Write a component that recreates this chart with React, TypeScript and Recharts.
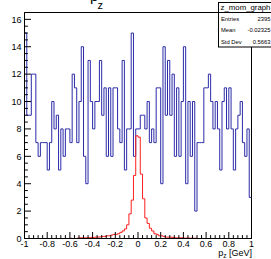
import { ComposedChart, Line, XAxis, YAxis, ReferenceArea } from "recharts";

const X_MIN = -1;
const X_MAX = 1;
const Y_MAX = 16.5;

// 100 bins over [-1, 1] GeV
const blueCounts = [
  15, 9, 9, 12, 12, 7, 6, 7, 7, 7,
  5, 7, 10, 8, 9, 5, 8, 6, 8, 8,
  7, 12, 11, 7, 10, 14, 6, 4, 13, 10,
  8, 10, 10, 13, 9, 11, 6, 11, 6, 11,
  11, 8, 7, 13, 5, 8, 8, 15, 6, 8,
  8, 9, 9, 8, 10, 7, 8, 7, 11, 11,
  4, 14, 9, 13, 9, 12, 6, 11, 6, 10,
  14, 4, 10, 6, 10, 2, 7, 7, 7, 11,
  11, 12, 10, 8, 10, 8, 5, 10, 11, 8,
  11, 8, 5, 8, 9, 10, 7, 6, 8, 3,
];

const redCounts = [
  0, 0, 0, 0, 0, 0, 0, 0, 0, 0,
  0, 0, 0, 0, 0, 0, 0, 0, 0, 0,
  0.02, 0, 0, 0.02, 0.05, 0.05, 0.05, 0.05, 0.05, 0.08,
  0.08, 0.1, 0.1, 0.12, 0.15, 0.15, 0.2, 0.2, 0.25, 0.3,
  0.3, 0.35, 0.45, 0.55, 0.7, 1.0, 1.8, 2.8, 4.6, 7.5,
  7.4, 4.7, 2.9, 1.5, 1.1, 0.75, 0.55, 0.35, 0.3, 0.2,
  0.2, 0.15, 0.1, 0.1, 0.1, 0.08, 0.05, 0.05, 0.05, 0.05,
  0.03, 0.03, 0.03, 0.02, 0.02, 0.02, 0, 0, 0, 0,
  0, 0, 0, 0, 0, 0, 0, 0, 0, 0,
  0, 0, 0, 0, 0, 0, 0, 0, 0, 0,
];

const xMajorTicks = [-1, -0.8, -0.6, -0.4, -0.2, 0, 0.2, 0.4, 0.6, 0.8, 1];
const xTickLabels = ["-1", "-0.8", "-0.6", "-0.4", "-0.2", "0", "0.2", "0.4", "0.6", "0.8", "1"];
const yMajorTicks = [0, 2, 4, 6, 8, 10, 12, 14, 16];
const yTickLabels = ["0", "2", "4", "6", "8", "10", "12", "14", "16"];
const X_MINOR_DIV = 5;
const Y_MINOR_DIV = 4;

const statsTitle = "z_mom_graph";
const statsLabels = ["Entries", "Mean", "Std Dev"];
const statsValues = ["2395", "-0.02325", "0.5663"];

const FONT = "'Liberation Sans', Arial, Helvetica, sans-serif";
const BLUE = "#2b2ba8";
const RED = "#ff1e1e";

const round = (v: number) => Math.round(v * 10000) / 10000;

function withMinors(majors: number[], div: number, top?: number) {
  const out: number[] = [];
  majors.forEach((m, i) => {
    out.push(m);
    const next = i < majors.length - 1 ? majors[i + 1] : top;
    if (next === undefined) return;
    const step = (majors[1] - majors[0]) / div;
    for (let k = 1; k < div; k++) {
      const v = round(m + k * step);
      if (v < next + 1e-9) out.push(v);
    }
  });
  return out;
}

const xTicks = withMinors(xMajorTicks, X_MINOR_DIV);
const yTicks = withMinors(yMajorTicks, Y_MINOR_DIV, Y_MAX);

const majorIndex = (majors: number[], v: number) =>
  majors.findIndex((m) => Math.abs(m - v) < 1e-6);

const nBins = blueCounts.length;
const histData = Array.from({ length: nBins + 1 }, (_, i) => {
  const b = Math.min(i, nBins - 1);
  return {
    x: round(X_MIN + (i * (X_MAX - X_MIN)) / nBins),
    blue: blueCounts[b],
    red: redCounts[b],
  };
});

function XTick(props: any) {
  const { x, y, payload } = props;
  const idx = majorIndex(xMajorTicks, payload.value);
  const len = idx >= 0 ? 6.5 : 3.4;
  return (
    <g>
      <line x1={x} x2={x} y1={y} y2={y - len} stroke="#000" strokeWidth={1} />
      {idx >= 0 && (
        <text x={x} y={y + 8.6} textAnchor="middle" fontSize={9} fontFamily={FONT} fill="#000">
          {xTickLabels[idx]}
        </text>
      )}
    </g>
  );
}

function YTick(props: any) {
  const { x, y, payload } = props;
  const idx = majorIndex(yMajorTicks, payload.value);
  const len = idx >= 0 ? 6.5 : 3.4;
  return (
    <g>
      <line x1={x} x2={x + len} y1={y} y2={y} stroke="#000" strokeWidth={1} />
      {idx >= 0 && (
        <text x={x - 3} y={y + 3.2} textAnchor="end" fontSize={9} fontFamily={FONT} fill="#000">
          {yTickLabels[idx]}
        </text>
      )}
    </g>
  );
}

export default function App() {
  return (
    <div style={{ position: "absolute", left: 0, top: 0, width: 271, height: 259, background: "#fff" }}>
      <ComposedChart
        width={271}
        height={259}
        data={histData}
        margin={{ top: 12.5, right: 19.5, bottom: 0, left: 0 }}
      >
        <XAxis
          dataKey="x"
          type="number"
          domain={[X_MIN, X_MAX]}
          ticks={xTicks}
          interval={0}
          tickSize={0}
          tickMargin={0}
          height={20.5}
          allowDataOverflow
          axisLine={{ stroke: "#000" }}
          tickLine={false}
          tick={(p: any) => <XTick {...p} />}
        />
        <YAxis
          type="number"
          domain={[0, Y_MAX]}
          ticks={yTicks}
          interval={0}
          tickSize={0}
          tickMargin={0}
          width={24.5}
          allowDataOverflow
          axisLine={{ stroke: "#000" }}
          tickLine={false}
          tick={(p: any) => <YTick {...p} />}
        />
        <ReferenceArea
          x1={X_MIN}
          x2={X_MAX}
          y1={0}
          y2={Y_MAX}
          fill="none"
          fillOpacity={0}
          stroke="#000"
          strokeWidth={1}
          strokeOpacity={1}
          ifOverflow="visible"
        />
        <Line
          type="stepAfter"
          dataKey="blue"
          stroke={BLUE}
          strokeWidth={1}
          dot={false}
          activeDot={false}
          isAnimationActive={false}
        />
        <Line
          type="stepAfter"
          dataKey="red"
          stroke={RED}
          strokeWidth={1}
          dot={false}
          activeDot={false}
          isAnimationActive={false}
        />
      </ComposedChart>
      <svg
        width={271}
        height={259}
        style={{ position: "absolute", left: 0, top: 0, pointerEvents: "none" }}
        fontFamily={FONT}
      >
        {/* histogram title, mostly above the canvas */}
        <text x={90} y={1.2} fontSize={15} fill="#000">p</text>
        <text x={97.5} y={9} fontSize={11} fill="#000">z</text>

        {/* x axis title */}
        <text x={252} y={256.3} textAnchor="end" fontSize={9} fill="#000">
          p<tspan fontSize={6.5} dy={2}>z</tspan>
          <tspan dy={-2}> [GeV]</tspan>
        </text>

        {/* stats box */}
        <rect x={218.5} y={2.5} width={56} height={44.5} fill="#fff" stroke="#000" strokeWidth={1} />
        <line x1={218.5} x2={274} y1={12.5} y2={12.5} stroke="#000" strokeWidth={1} />
        <text x={245.5} y={9.8} textAnchor="middle" fontSize={7.8} fill="#000">
          {statsTitle}
        </text>
        {statsLabels.map((label, i) => (
          <text key={label} x={221} y={20.6 + i * 11.5} fontSize={5.8} fill="#000">
            {label}
          </text>
        ))}
        {statsValues.map((val, i) => (
          <text key={val} x={270.5} y={20.6 + i * 11.5} textAnchor="end" fontSize={5.8} fill="#000">
            {val}
          </text>
        ))}
      </svg>
    </div>
  );
}
